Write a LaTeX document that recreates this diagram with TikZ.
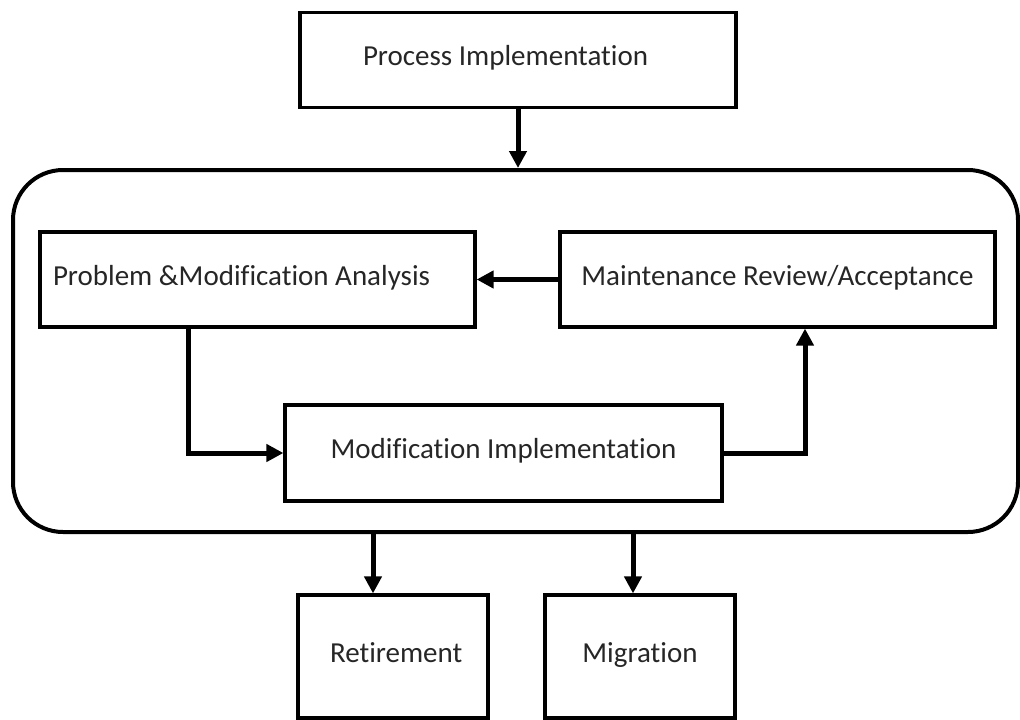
\documentclass[tikz,border=0pt]{standalone}
\usepackage{fontspec}
\setmainfont{Carlito}[Ligatures={NoCommon}]
\usetikzlibrary{arrows.meta}
\begin{document}
\begin{tikzpicture}[x=1pt,y=-1pt,
  box/.style={draw=black, line width=3.2pt, minimum height=95pt, inner ysep=0pt,
    text height=1.15em, text depth=0em,
    font=\fontsize{29}{35}\selectfont, text=black!85},
  flow/.style={draw=black, line width=5pt, -{Triangle[length=17pt,width=17pt]}},
]
\useasboundingbox (0,0) rectangle (1020,720);

% maintenance stage container
\node[draw=black, line width=4pt, rounded corners=50pt, minimum width=1005pt,
      minimum height=362pt, inner sep=0pt] (stage) at (515.5,351) {};

% activity boxes
\node[box, align=flush left, text width=310pt, inner xsep=63pt] (proc) at (518,60) {Process Implementation};
\node[box, align=flush left, text width=409pt, inner xsep=13pt] (prob) at (257.5,279.5) {Problem \&Modification Analysis};
\node[box, minimum width=435pt, inner xsep=0pt] (maint) at (777.5,279.5) {Maintenance Review/Acceptance};
\node[box, minimum width=437pt, inner xsep=0pt, minimum height=96pt] (mod) at (503.5,453) {Modification Implementation};
\node[box, align=flush left, text width=126pt, inner xsep=32pt, minimum height=123pt] (ret) at (393,656.5) {\mbox{Retirement}};
\node[box, minimum width=190pt, inner xsep=0pt, minimum height=123pt] (mig) at (640,656.5) {Migration};

% flow between activities
\draw[flow] (proc.south) -- (proc.south |- stage.north);
\draw[flow] (maint.west) -- (prob.east);
\draw[flow] ([xshift=-69.5pt]prob.south) |- (mod.west);
\draw[flow] (mod.east) -| ([xshift=27.5pt]maint.south);
\draw[flow] ([xshift=-20pt]ret.north |- stage.south) -- ([xshift=-20pt]ret.north);
\draw[flow] ([xshift=-7pt]mig.north |- stage.south) -- ([xshift=-7pt]mig.north);
\end{tikzpicture}
\end{document}
